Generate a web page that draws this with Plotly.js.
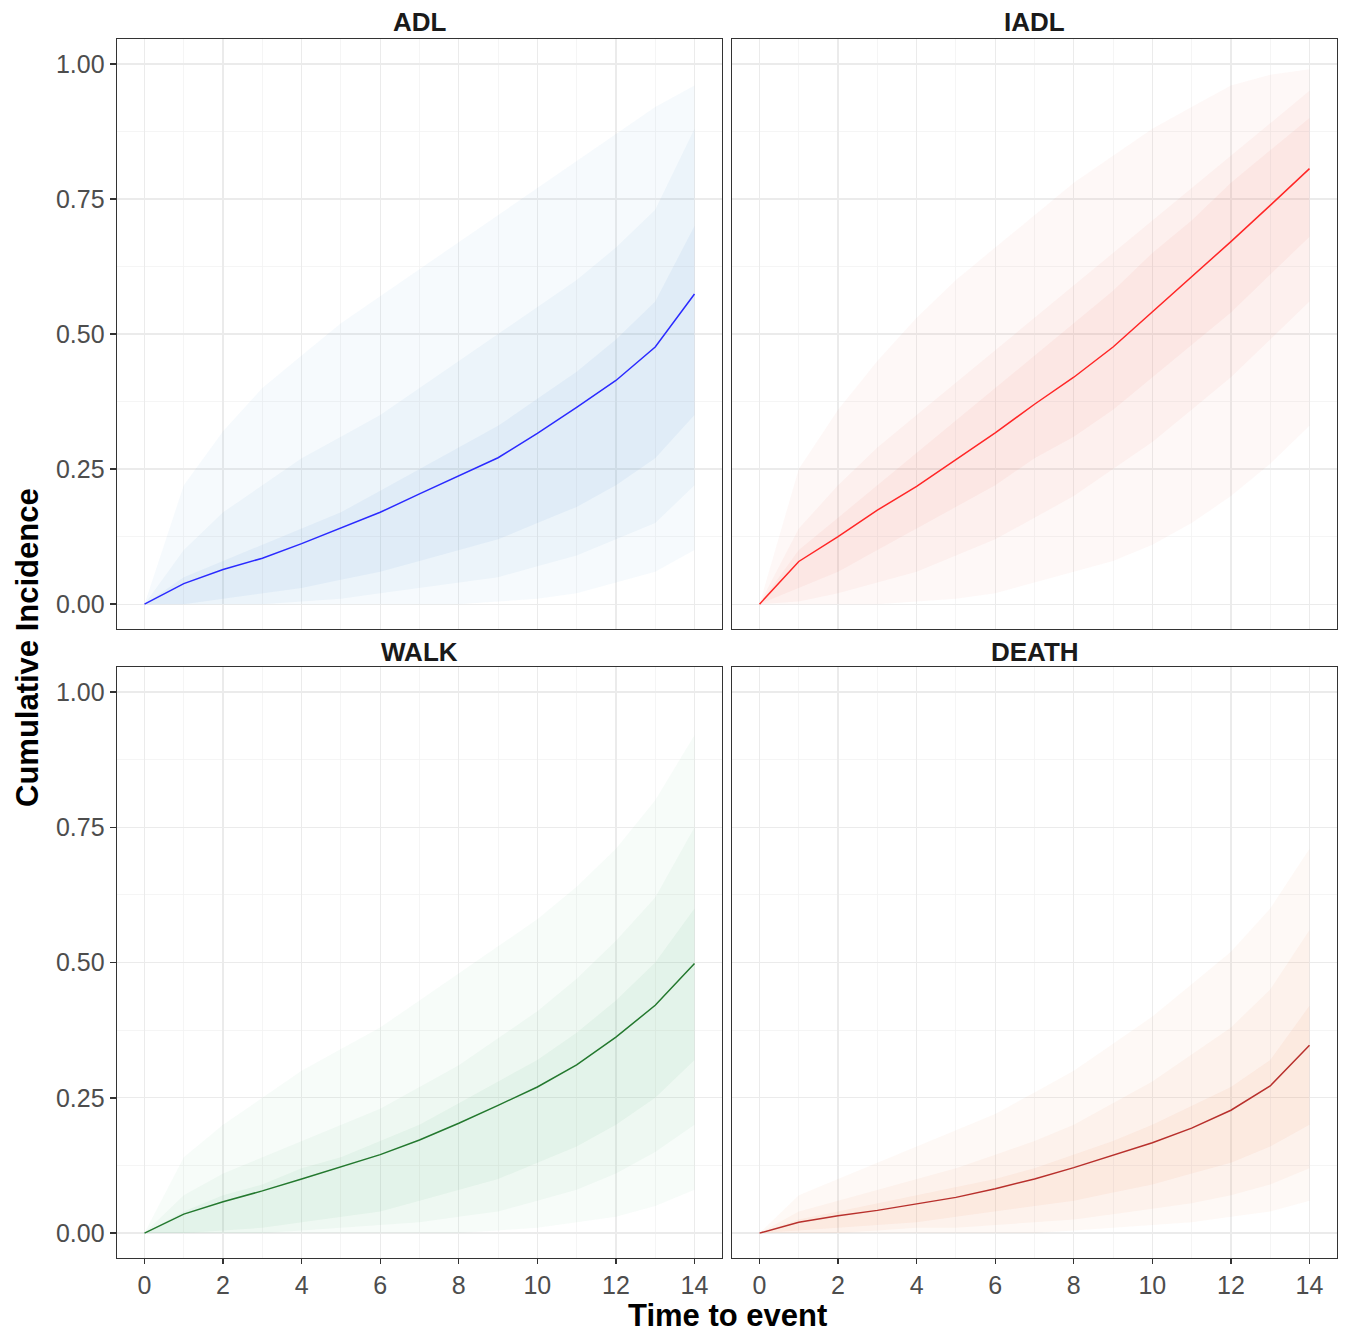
<!DOCTYPE html>
<html>
<head>
<meta charset="utf-8">
<script src="https://cdn.plot.ly/plotly-3.0.1.min.js"></script>
<style>html,body{margin:0;padding:0;background:#fff;}#chart{width:1349px;height:1332px;}</style>
</head>
<body>
<div id="chart"></div>
<script>
// ---------- DATA ----------
const time = [0,1,2,3,4,5,6,7,8,9,10,11,12,13,14];
const panels = ["ADL","IADL","WALK","DEATH"];

// mean cumulative incidence curves
const meanADL   = [0,0.038,0.064,0.085,0.112,0.141,0.170,0.204,0.238,0.271,0.316,0.364,0.414,0.476,0.574];
const meanIADL  = [0,0.079,0.125,0.174,0.218,0.267,0.317,0.370,0.420,0.476,0.541,0.605,0.671,0.738,0.806];
const meanWALK  = [0,0.035,0.058,0.078,0.100,0.122,0.145,0.172,0.203,0.236,0.270,0.311,0.362,0.421,0.498];
const meanDEATH = [0,0.020,0.032,0.042,0.054,0.066,0.082,0.100,0.121,0.144,0.167,0.194,0.227,0.272,0.347];

// spread of the individual (simulated) trajectories: outer / middle / core envelopes
const adlOuterHi  = [0,0.22,0.32,0.40,0.46,0.52,0.57,0.62,0.67,0.72,0.77,0.82,0.87,0.92,0.96];
const adlOuterLo  = [0,0,0,0,0,0,0,0,0,0.005,0.01,0.02,0.04,0.06,0.10];
const adlMidHi    = [0,0.10,0.17,0.22,0.27,0.31,0.35,0.40,0.45,0.50,0.55,0.60,0.66,0.73,0.88];
const adlMidLo    = [0,0,0,0,0.005,0.01,0.02,0.03,0.04,0.05,0.07,0.09,0.12,0.15,0.22];
const adlCoreHi   = [0,0.05,0.08,0.11,0.14,0.17,0.21,0.25,0.29,0.33,0.38,0.43,0.49,0.56,0.70];
const adlCoreLo   = [0,0,0.01,0.02,0.03,0.045,0.06,0.08,0.10,0.12,0.15,0.18,0.22,0.27,0.35];

const iadlOuterHi = [0,0.25,0.36,0.45,0.53,0.60,0.66,0.72,0.78,0.83,0.88,0.92,0.96,0.98,0.99];
const iadlOuterLo = [0,0,0,0,0.005,0.01,0.02,0.04,0.06,0.08,0.11,0.15,0.20,0.26,0.33];
const iadlMidHi   = [0,0.14,0.22,0.29,0.35,0.41,0.47,0.53,0.59,0.65,0.71,0.77,0.83,0.89,0.95];
const iadlMidLo   = [0,0.005,0.02,0.04,0.06,0.09,0.12,0.16,0.20,0.25,0.30,0.36,0.42,0.49,0.56];
const iadlCoreHi  = [0,0.10,0.16,0.22,0.28,0.34,0.40,0.46,0.52,0.58,0.65,0.71,0.78,0.84,0.90];
const iadlCoreLo  = [0,0.03,0.06,0.10,0.14,0.18,0.22,0.27,0.31,0.36,0.42,0.48,0.54,0.61,0.68];

const walkOuterHi = [0,0.14,0.20,0.25,0.30,0.34,0.38,0.43,0.48,0.53,0.58,0.64,0.71,0.80,0.92];
const walkOuterLo = [0,0,0,0,0,0,0,0,0,0.005,0.01,0.02,0.03,0.05,0.08];
const walkMidHi   = [0,0.07,0.11,0.14,0.17,0.20,0.23,0.27,0.31,0.36,0.41,0.47,0.54,0.62,0.75];
const walkMidLo   = [0,0,0,0,0.005,0.01,0.015,0.02,0.03,0.04,0.06,0.08,0.11,0.15,0.20];
const walkCoreHi  = [0,0.04,0.07,0.09,0.12,0.14,0.17,0.20,0.24,0.28,0.32,0.37,0.43,0.50,0.60];
const walkCoreLo  = [0,0,0.005,0.01,0.02,0.03,0.04,0.06,0.08,0.10,0.13,0.16,0.20,0.25,0.32];

const deathOuterHi = [0,0.07,0.10,0.13,0.16,0.19,0.22,0.26,0.30,0.35,0.40,0.46,0.52,0.60,0.71];
const deathOuterLo = [0,0,0,0,0,0,0,0,0.005,0.01,0.015,0.02,0.03,0.04,0.06];
const deathMidHi   = [0,0.04,0.06,0.08,0.10,0.12,0.145,0.17,0.20,0.24,0.28,0.33,0.38,0.45,0.56];
const deathMidLo   = [0,0,0,0.005,0.01,0.01,0.015,0.02,0.025,0.035,0.045,0.055,0.07,0.09,0.12];
const deathCoreHi  = [0,0.025,0.04,0.055,0.07,0.085,0.10,0.12,0.145,0.17,0.20,0.235,0.27,0.32,0.42];
const deathCoreLo  = [0,0.005,0.01,0.015,0.02,0.03,0.04,0.05,0.06,0.075,0.09,0.11,0.13,0.16,0.20];

const xTicks = [0,2,4,6,8,10,12,14];
const yTicks = [0,0.25,0.5,0.75,1];
const yTickText = ["0.00","0.25","0.50","0.75","1.00"];

// ---------- BUILD TRACES ----------
const spec = [
  {name:"ADL",   mean:meanADL,   bands:[[adlOuterLo,adlOuterHi],[adlMidLo,adlMidHi],[adlCoreLo,adlCoreHi]],       rgb:"80,150,210",  line:"#2a2aff", ax:""},
  {name:"IADL",  mean:meanIADL,  bands:[[iadlOuterLo,iadlOuterHi],[iadlMidLo,iadlMidHi],[iadlCoreLo,iadlCoreHi]], rgb:"245,115,105", line:"#ff2626", ax:"2"},
  {name:"WALK",  mean:meanWALK,  bands:[[walkOuterLo,walkOuterHi],[walkMidLo,walkMidHi],[walkCoreLo,walkCoreHi]], rgb:"100,190,130", line:"#23782e", ax:"3"},
  {name:"DEATH", mean:meanDEATH, bands:[[deathOuterLo,deathOuterHi],[deathMidLo,deathMidHi],[deathCoreLo,deathCoreHi]], rgb:"240,140,85", line:"#b8302c", ax:"4"}
];
const alphas = [0.05, 0.06, 0.075];

const data = [];
spec.forEach(p => {
  const xa = "x" + p.ax, ya = "y" + p.ax;
  p.bands.forEach((b, i) => {
    data.push({x:time, y:b[0], xaxis:xa, yaxis:ya, type:"scatter", mode:"lines",
      line:{width:0}, hoverinfo:"skip", showlegend:false});
    data.push({x:time, y:b[1], xaxis:xa, yaxis:ya, type:"scatter", mode:"lines",
      line:{width:0}, fill:"tonexty", fillcolor:"rgba(" + p.rgb + "," + alphas[i] + ")",
      hoverinfo:"skip", showlegend:false});
  });
  data.push({x:time, y:p.mean, xaxis:xa, yaxis:ya, type:"scatter", mode:"lines",
    line:{color:p.line, width:1.5}, name:p.name, showlegend:false});
});

// ---------- LAYOUT ----------
const W = 1349, H = 1332;
const colX = [[117,722],[732,1337]];
const rowY = [[39,629],[667,1258]];
const dx = c => [colX[c][0]/W, colX[c][1]/W];
const dy = r => [1 - rowY[r][1]/H, 1 - rowY[r][0]/H];

const tickFont = {family:"Liberation Sans, Arial, sans-serif", size:25, color:"#4d4d4d"};
function xAxis(c, r, showLab, anchor){
  return {domain:dx(c), anchor:anchor, range:[-0.7,14.7], tickvals:xTicks,
    showticklabels:showLab, ticks: showLab ? "outside" : "", ticklen:5, tickwidth:1.4, tickcolor:"#333333",
    tickfont:tickFont, showline:true, mirror:true, linecolor:"#333333", linewidth:1.4,
    showgrid:true, gridcolor:"#ebebeb", gridwidth:1.3, zeroline:false,
    minor:{dtick:1, tick0:0, showgrid:true, gridcolor:"#f3f3f3", gridwidth:0.8}};
}
function yAxis(c, r, showLab, anchor){
  return {domain:dy(r), anchor:anchor, range:[-0.046,1.046], tickvals:yTicks, ticktext:yTickText,
    showticklabels:showLab, ticks: showLab ? "outside" : "", ticklen:6, tickwidth:1.4, tickcolor:"#333333",
    tickfont:tickFont, showline:true, mirror:true, linecolor:"#333333", linewidth:1.4,
    showgrid:true, gridcolor:"#ebebeb", gridwidth:1.3, zeroline:false,
    minor:{dtick:0.125, tick0:0, showgrid:true, gridcolor:"#f3f3f3", gridwidth:0.8}};
}

const stripFont = {family:"Liberation Sans, Arial, sans-serif", size:26, color:"#1a1a1a"};
const titleFont = {family:"Liberation Sans, Arial, sans-serif", size:31, color:"#000000"};

const layout = {
  width:W, height:H, margin:{l:0,r:0,t:0,b:0},
  paper_bgcolor:"#ffffff", plot_bgcolor:"#ffffff", showlegend:false,
  xaxis:  xAxis(0,0,false,"y"),  yaxis:  yAxis(0,0,true,"x"),
  xaxis2: xAxis(1,0,false,"y2"), yaxis2: yAxis(1,0,false,"x2"),
  xaxis3: xAxis(0,1,true,"y3"),  yaxis3: yAxis(0,1,true,"x3"),
  xaxis4: xAxis(1,1,true,"y4"),  yaxis4: yAxis(1,1,false,"x4"),
  annotations:[
    {text:"<b>" + panels[0] + "</b>", xref:"paper", yref:"paper", x:(117+722)/2/W, y:1-22/H, showarrow:false, font:stripFont, xanchor:"center", yanchor:"middle"},
    {text:"<b>" + panels[1] + "</b>", xref:"paper", yref:"paper", x:(732+1337)/2/W, y:1-22/H, showarrow:false, font:stripFont, xanchor:"center", yanchor:"middle"},
    {text:"<b>" + panels[2] + "</b>", xref:"paper", yref:"paper", x:(117+722)/2/W, y:1-652/H, showarrow:false, font:stripFont, xanchor:"center", yanchor:"middle"},
    {text:"<b>" + panels[3] + "</b>", xref:"paper", yref:"paper", x:(732+1337)/2/W, y:1-652/H, showarrow:false, font:stripFont, xanchor:"center", yanchor:"middle"},
    {text:"<b>Cumulative Incidence</b>", xref:"paper", yref:"paper", x:27/W, y:1-648/H, textangle:-90, showarrow:false, font:titleFont, xanchor:"center", yanchor:"middle"},
    {text:"<b>Time to event</b>", xref:"paper", yref:"paper", x:727/W, y:1-1315/H, showarrow:false, font:titleFont, xanchor:"center", yanchor:"middle"}
  ]
};

Plotly.newPlot("chart", data, layout, {displayModeBar:false, staticPlot:true});
</script>
</body>
</html>
